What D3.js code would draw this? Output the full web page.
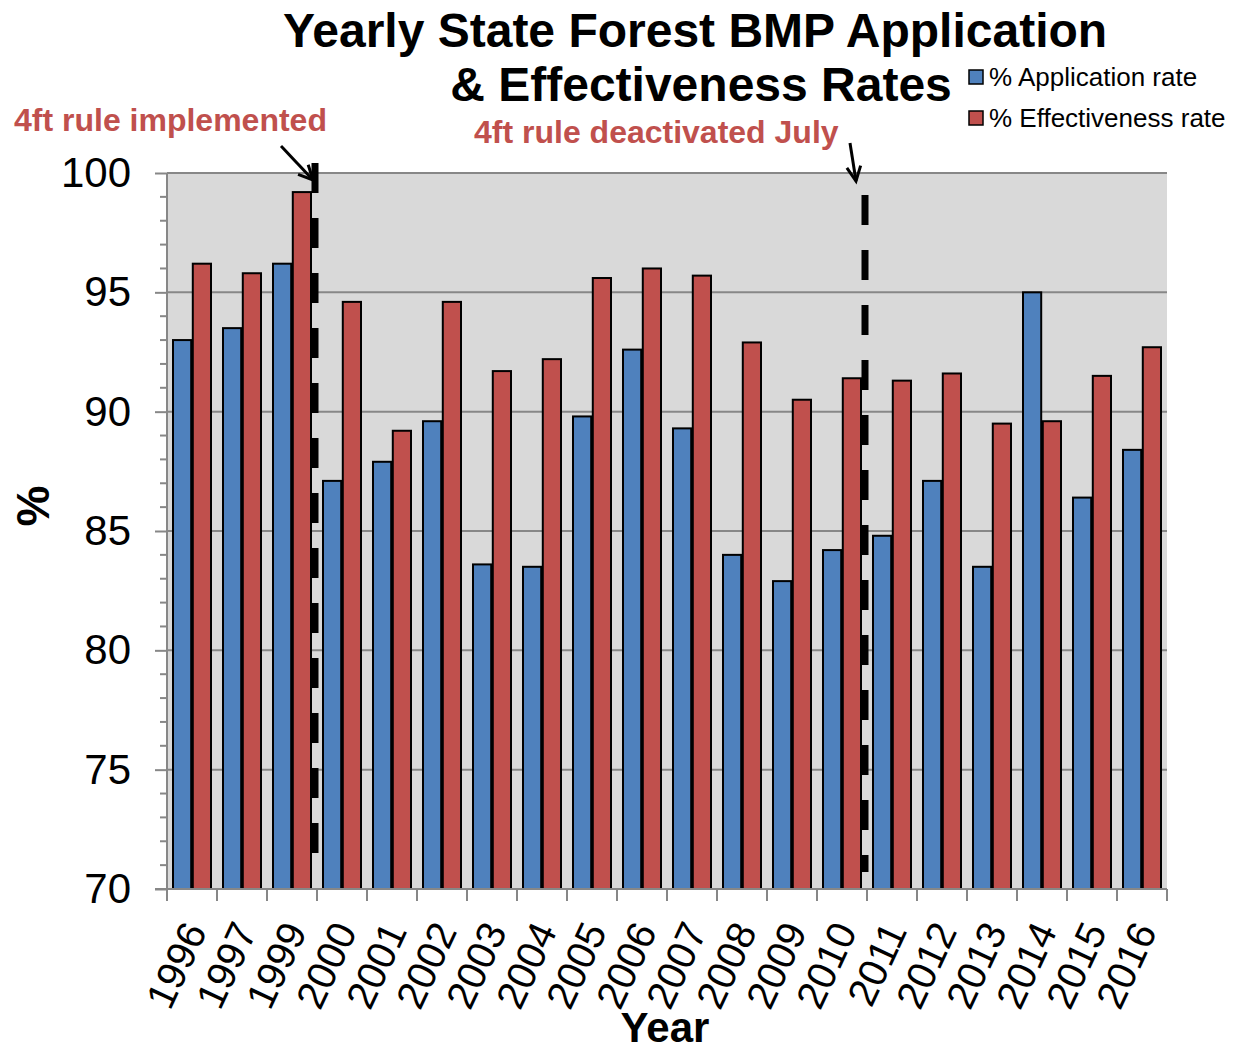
<!DOCTYPE html>
<html><head><meta charset="utf-8">
<script src="https://cdn.jsdelivr.net/npm/d3@7"></script>
<style>body{margin:0;background:#fff}svg{display:block}text{font-family:"Liberation Sans",Arial,sans-serif}</style>
</head><body><svg id="c" width="1245" height="1051"></svg>
<script>
const years = ["1996","1997","1999","2000","2001","2002","2003","2004","2005","2006","2007","2008","2009","2010","2011","2012","2013","2014","2015","2016"];
const applicationRate = [93.0,93.5,96.2,87.1,87.9,89.6,83.6,83.5,89.8,92.6,89.3,84.0,82.9,84.2,84.8,87.1,83.5,95.0,86.4,88.4];
const effectivenessRate = [96.2,95.8,99.2,94.6,89.2,94.6,91.7,92.2,95.6,96.0,95.7,92.9,90.5,91.4,91.3,91.6,89.5,89.6,91.5,92.7];
const seriesNames = ["% Application rate","% Effectiveness rate"];
const yTicks = [70,75,80,85,90,95,100];
const markers = [{after:"1999", label:"4ft rule implemented"},{after:"2010", label:"4ft rule deactivated July"}];

const svg = d3.select("#c");
const L=167,R=1167,T=173,B=889;
const x = d3.scaleBand().domain(years).range([L,R]).paddingInner(0.24).paddingOuter(0.12);
const xs = d3.scaleBand().domain(seriesNames).range([0,x.bandwidth()]).paddingInner(0.08);
const y = d3.scaleLinear().domain([70,100]).range([B,T]);
const colors = ["#4f81bd","#c0504d"];
const step = (R-L)/years.length;

svg.append("rect").attr("x",L).attr("y",T).attr("width",R-L).attr("height",B-T).attr("fill","#d9d9d9");
// gridlines
svg.append("g").selectAll("line").data(yTicks.slice(1)).join("line")
 .attr("x1",L).attr("x2",R).attr("y1",d=>y(d)).attr("y2",d=>y(d)).attr("stroke","#878787").attr("stroke-width",2);
// y axis
const yAxis = d3.axisLeft(y).tickValues(yTicks).tickSize(12).tickPadding(24);
const gy = svg.append("g").attr("transform",`translate(${L},0)`).call(yAxis);
gy.select(".domain").remove();
gy.selectAll("line").attr("stroke","#878787").attr("stroke-width",2);
gy.selectAll("text").attr("font-size",42).attr("fill","#000").style("font-family","Liberation Sans, Arial");
const minor = d3.range(71,100).filter(v=>v%5!==0);
svg.append("g").selectAll("line").data(minor).join("line")
 .attr("x1",L-7).attr("x2",L).attr("y1",d=>y(d)).attr("y2",d=>y(d)).attr("stroke","#878787").attr("stroke-width",2);
svg.append("line").attr("x1",L).attr("x2",L).attr("y1",T).attr("y2",B).attr("stroke","#878787").attr("stroke-width",2);

// bars
const data = years.map((yr,i)=>({yr, vals:[applicationRate[i],effectivenessRate[i]]}));
const grp = svg.append("g").selectAll("g").data(data).join("g").attr("transform",d=>`translate(${x(d.yr)},0)`);
grp.selectAll("rect").data(d=>d.vals.map((v,j)=>({v,j}))).join("rect")
 .attr("x",d=>xs(seriesNames[d.j])).attr("width",xs.bandwidth())
 .attr("y",d=>y(d.v)).attr("height",d=>B-y(d.v))
 .attr("fill",d=>colors[d.j]).attr("stroke","#000").attr("stroke-width",2);

// x axis
svg.append("line").attr("x1",L-12).attr("x2",R).attr("y1",B).attr("y2",B).attr("stroke","#878787").attr("stroke-width",2);
svg.append("g").selectAll("line").data(d3.range(years.length+1)).join("line")
 .attr("x1",i=>L+i*step).attr("x2",i=>L+i*step).attr("y1",B).attr("y2",B+12).attr("stroke","#878787").attr("stroke-width",2);
svg.append("g").selectAll("text").data(years).join("text")
 .attr("transform",d=>`translate(${x(d)+x.bandwidth()/2+3},925) rotate(-65)`)
 .attr("text-anchor","end").attr("dy","0.35em").attr("font-size",40).text(d=>d);

// dashed lines
markers.forEach((m,k)=>{
  const xi = years.indexOf(m.after)+1;
  const xx = L+xi*step-2;
  svg.append("line").attr("x1",xx).attr("x2",xx).attr("y1",k===0?163:195).attr("y2",k===0?865:872)
   .attr("stroke","#000").attr("stroke-width",7).attr("stroke-dasharray","30,25");
});
// arrows
function arrow(x1,y1,x2,y2){
  svg.append("line").attr("x1",x1).attr("y1",y1).attr("x2",x2).attr("y2",y2).attr("stroke","#000").attr("stroke-width",3);
  const a=Math.atan2(y2-y1,x2-x1), h=16, s=0.45;
  const p=[[x2-h*Math.cos(a-s),y2-h*Math.sin(a-s)],[x2,y2],[x2-h*Math.cos(a+s),y2-h*Math.sin(a+s)]];
  svg.append("path").attr("d",d3.line()(p)).attr("fill","none").attr("stroke","#000").attr("stroke-width",3);
}
arrow(281,146,313,180);
arrow(850,143,856,181);

// annotation texts
svg.append("text").attr("x",14).attr("y",131).attr("font-size",32).attr("font-weight","bold").attr("fill","#c0504d").text(markers[0].label);
svg.append("text").attr("x",474).attr("y",143).attr("font-size",32).attr("font-weight","bold").attr("fill","#c0504d").text(markers[1].label);

// title
svg.append("text").attr("x",695).attr("y",47).attr("text-anchor","middle").attr("font-size",48).attr("font-weight","bold").text("Yearly State Forest BMP Application");
svg.append("text").attr("x",701).attr("y",101).attr("text-anchor","middle").attr("font-size",48).attr("font-weight","bold").text("& Effectiveness Rates");

// legend
seriesNames.forEach((n,i)=>{
  const ly = 70+i*41;
  svg.append("rect").attr("x",969).attr("y",ly).attr("width",14).attr("height",14).attr("fill",colors[i]).attr("stroke","#000").attr("stroke-width",1.5);
  svg.append("text").attr("x",989).attr("y",ly+16).attr("font-size",26).text(n);
});

// axis titles
svg.append("text").attr("transform","translate(49,506) rotate(-90)").attr("text-anchor","middle").attr("font-size",46).attr("font-weight","bold").text("%");
svg.append("text").attr("x",665).attr("y",1042).attr("text-anchor","middle").attr("font-size",42).attr("font-weight","bold").text("Year");
</script></body></html>
